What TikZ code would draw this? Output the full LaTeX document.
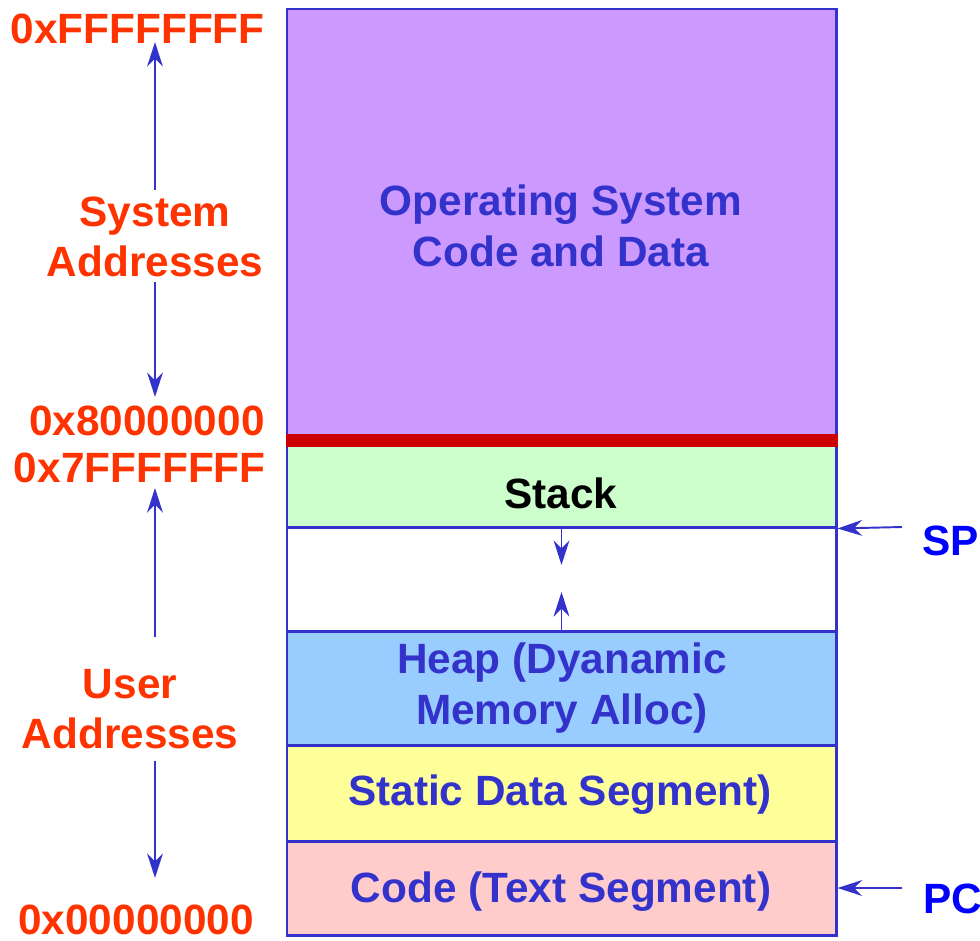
\documentclass[tikz,border=0pt]{standalone}
\usepackage{fontspec}
\setmainfont{Liberation Sans}
\usetikzlibrary{arrows.meta,fit}
\definecolor{boxblue}{HTML}{3333CC}
\definecolor{addrred}{HTML}{FF3300}
\definecolor{regblue}{HTML}{0000FF}
\definecolor{osfill}{HTML}{CC99FF}
\definecolor{stackfill}{HTML}{CCFFCC}
\definecolor{heapfill}{HTML}{99CCFF}
\definecolor{datafill}{HTML}{FFFF99}
\definecolor{codefill}{HTML}{FFCCCC}
\definecolor{splitred}{HTML}{CC0000}
\newcommand{\mapfont}{\bfseries\fontsize{24.1}{28.8}\selectfont}
\tikzset{
	seg/.style={draw=boxblue,line width=1.7pt,inner sep=0pt},
	segtext/.style={text=boxblue,font=\mapfont,align=center,inner sep=0pt},
	addr/.style={text=addrred,font=\mapfont,align=center,inner sep=0pt},
	reg/.style={text=regblue,font=\mapfont,inner sep=0pt},
	ptr/.style={->,draw=boxblue,line width=1.1pt}
}
\begin{document}
\begin{tikzpicture}[x=0.02cm,y=-0.02cm,>={Stealth[length=14pt,width=9pt,inset=4.5pt]}]
	\useasboundingbox (0,0) rectangle (980,940);
	% memory segments, top to bottom
	\node[seg,fill=osfill,fit={(287,9) (836,441)}] (os) {};
	\node[seg,fill=stackfill,fit={(287,441) (836,527)}] (stack) {};
	\node[seg,fill=white,fit={(287,527) (836,631)}] (gap) {};
	\node[seg,fill=heapfill,fit={(287,631) (836,745)}] (heap) {};
	\node[seg,fill=datafill,fit={(287,745) (836,841)}] (data) {};
	\node[seg,fill=codefill,fit={(287,841) (836,935)}] (code) {};
	\fill[splitred] (285.5,434) rectangle (837.5,447);
	\node[segtext] (ostext) at (561,226) {Operating System\\Code and Data};
	\node[segtext,text=black,anchor=base] (stacktext) at (561,508) {Stack};
	\node[segtext] (heaptext) at (562,688) {Heap (Dyanamic\\Memory Alloc)};
	\node[segtext,anchor=base] (datatext) at (560,805) {Static Data Segment)};
	\node[segtext,anchor=base] (codetext) at (561,902) {Code (Text Segment)};
	% stack and heap grow towards each other
	\coordinate (stackgrow) at (561.5,565);
	\coordinate (heapgrow) at (561.5,592);
	\draw[ptr] (stack.south) -- (stackgrow);
	\draw[ptr] (heap.north) -- (heapgrow);
	% registers
	\node[reg,anchor=base west] (sp) at (922,555) {SP};
	\node[reg,anchor=base west] (pc) at (923,913) {PC};
	\coordinate (spfrom) at (902,527);
	\coordinate (pcfrom) at (902,888);
	\draw[ptr] (spfrom) -- (stack.south east);
	\draw[ptr] (pcfrom) -- (code.east);
	% address ranges
	\node[addr,anchor=base east] (top) at (265,43) {0xFFFFFFFF};
	\node[addr,anchor=base east] (sysbot) at (265,435) {0x80000000};
	\node[addr,anchor=base east] (usertop) at (266,482) {0x7FFFFFFF};
	\node[addr,anchor=base west] (bottom) at (18,934) {0x00000000};
	\node[addr] (sysaddr) at (155,237) {System\\Addresses};
	\node[addr] (useraddr) at (130,709) {User\\Addresses};
	\coordinate (sysup) at (155,190);
	\coordinate (systip) at (155,42);
	\coordinate (sysdown) at (155,282);
	\coordinate (sysend) at (155,397);
	\coordinate (userup) at (155,637);
	\coordinate (usertip) at (155,488);
	\coordinate (userdown) at (155,761);
	\coordinate (userend) at (155,878);
	\draw[ptr] (sysup) -- (systip);
	\draw[ptr] (sysdown) -- (sysend);
	\draw[ptr] (userup) -- (usertip);
	\draw[ptr] (userdown) -- (userend);
\end{tikzpicture}
\end{document}
